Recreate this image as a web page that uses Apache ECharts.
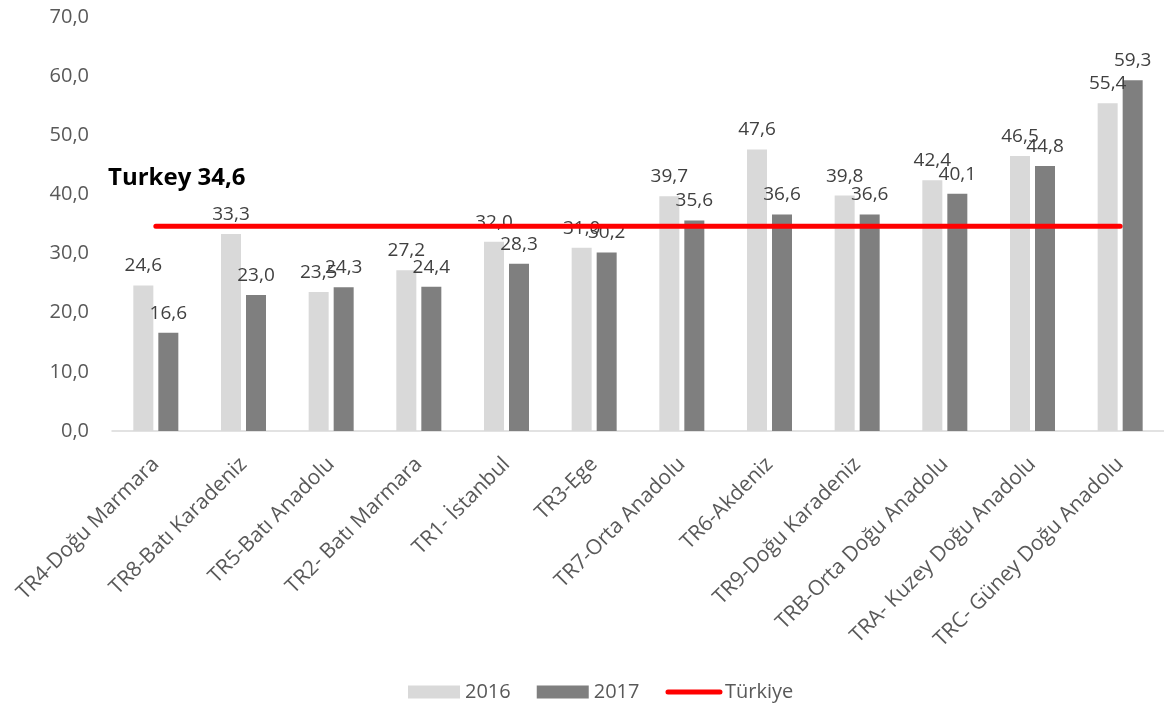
<!DOCTYPE html>
<html>
<head>
<meta charset="utf-8">
<script src="https://cdn.jsdelivr.net/npm/echarts@6/dist/echarts.min.js"></script>
<style>
  html, body { margin: 0; padding: 0; background: #fff; }
  #chart { width: 1164px; height: 709px; }
</style>
</head>
<body>
<div id="chart"></div>
<script>
const categories = [
  'TR4-Doğu Marmara', 'TR8-Batı Karadeniz', 'TR5-Batı Anadolu', 'TR2- Batı Marmara',
  'TR1- İstanbul', 'TR3-Ege', 'TR7-Orta Anadolu', 'TR6-Akdeniz',
  'TR9-Doğu Karadeniz', 'TRB-Orta Doğu Anadolu', 'TRA- Kuzey Doğu Anadolu', 'TRC- Güney Doğu Anadolu'
]
const values2016 = [24.6, 33.3, 23.5, 27.2, 32.0, 31.0, 39.7, 47.6, 39.8, 42.4, 46.5, 55.4]
const values2017 = [16.6, 23.0, 24.3, 24.4, 28.3, 30.2, 35.6, 36.6, 36.6, 40.1, 44.8, 59.3]
const turkeyValue = 34.6
const turkeyLine = categories.map(() => turkeyValue)

const fmt = v => v.toFixed(1).replace('.', ',')
const font = 'Open Sans, sans-serif'

const barLabel = {
  show: true,
  position: 'top',
  distance: 10,
  color: '#404040',
  fontSize: 19,
  fontFamily: font,
  formatter: p => fmt(p.value)
}

const chart = echarts.init(document.getElementById('chart'))
chart.setOption({
  animation: false,
  grid: { left: 112, right: 0, top: 17, bottom: 278 },
  legend: {
    bottom: 2,
    left: 403,
    itemWidth: 52,
    itemHeight: 13,
    itemGap: 26,
    textStyle: { color: '#595959', fontSize: 20, fontFamily: font },
    data: [
      { name: '2016', icon: 'rect' },
      { name: '2017', icon: 'rect' },
      { name: 'Türkiye', itemStyle: { opacity: 0 }, lineStyle: { width: 5, cap: 'round' } }
    ]
  },
  xAxis: {
    type: 'category',
    data: categories,
    axisLine: { lineStyle: { color: '#d9d9d9', width: 1.5 } },
    axisTick: { show: false },
    axisLabel: {
      rotate: 45,
      interval: 0,
      margin: 30,
      color: '#595959',
      fontSize: 21,
      fontFamily: font
    }
  },
  yAxis: {
    type: 'value',
    min: 0,
    max: 70,
    interval: 10,
    splitLine: { show: false },
    axisLine: { show: false },
    axisTick: { show: false },
    axisLabel: {
      color: '#595959',
      fontSize: 20,
      fontFamily: font,
      margin: 23,
      formatter: fmt
    }
  },
  series: [
    {
      name: '2016',
      type: 'bar',
      data: values2016,
      barWidth: 20,
      barGap: '25%',
      itemStyle: { color: '#d9d9d9' },
      label: barLabel
    },
    {
      name: '2017',
      type: 'bar',
      data: values2017,
      barWidth: 20,
      itemStyle: { color: '#7f7f7f' },
      label: barLabel
    },
    {
      name: 'Türkiye',
      type: 'line',
      data: turkeyLine,
      symbol: 'none',
      lineStyle: { color: '#ff0000', width: 5, cap: 'round' },
      itemStyle: { color: '#ff0000' },
      z: 5
    }
  ],
  graphic: [
    {
      type: 'text',
      x: 108,
      y: 178,
      style: {
        text: 'Turkey ' + fmt(turkeyValue),
        fill: '#000',
        fontSize: 24,
        fontWeight: 'bold',
        fontFamily: font,
        verticalAlign: 'middle'
      }
    }
  ]
})
</script>
</body>
</html>
